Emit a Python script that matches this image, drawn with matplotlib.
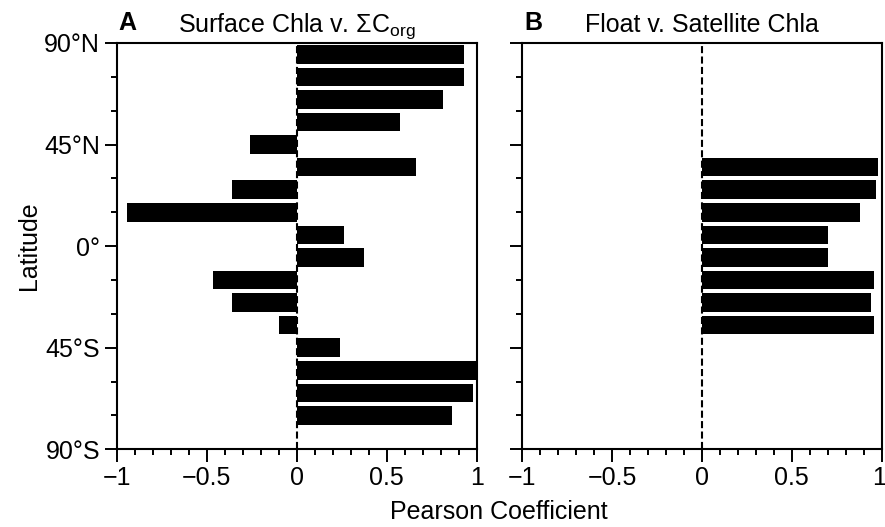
import matplotlib
matplotlib.use("Agg")
import matplotlib.pyplot as plt
from matplotlib.ticker import MultipleLocator
from matplotlib.transforms import ScaledTranslation

plt.rcParams['font.family'] = ['Liberation Sans', 'DejaVu Sans']
plt.rcParams['mathtext.fontset'] = 'custom'
plt.rcParams['mathtext.rm'] = 'Liberation Sans'
plt.rcParams['mathtext.it'] = 'Liberation Sans:italic'

# Data
lat_a = [85, 75, 65, 55, 45, 35, 25, 15, 5, -5, -15, -25, -35, -45, -55, -65, -75]
r_a = [0.93, 0.93, 0.815, 0.575, -0.26, 0.66, -0.362, -0.945, 0.26, 0.376,
       -0.463, -0.36, -0.10, 0.242, 1.0, 0.978, 0.863]
lat_b = [35, 25, 15, 5, -5, -15, -25, -35]
r_b = [0.98, 0.97, 0.88, 0.70, 0.70, 0.955, 0.943, 0.955]

ytick_vals = [90, 45, 0, -45, -90]
ytick_labels = ['90°N', '45°N', '0°', '45°S', '90°S']
xtick_vals = [-1, -0.5, 0, 0.5, 1]
xtick_labels = ['\u22121', '\u22120.5', '0', '0.5', '1']

titles = [r'Surface Chla v. $\Sigma$C$_{\mathrm{org}}$', 'Float v. Satellite Chla']
letters = ['A', 'B']

fig = plt.figure(figsize=(8.85, 5.27), dpi=100)
W, H = 885, 527
ax_a = fig.add_axes([116.7 / W, 1 - 449.3 / H, 360 / W, 406.3 / H])
ax_b = fig.add_axes([522.3 / W, 1 - 449.3 / H, 359.4 / W, 406.3 / H])

FS = 18
for i, (ax, lats, vals) in enumerate([(ax_a, lat_a, r_a), (ax_b, lat_b, r_b)]):
    ax.barh(lats, vals, height=8.2, color='black', edgecolor='none', zorder=2)
    ax.axvline(0, color='black', linestyle=(0, (3.4, 1.6)), linewidth=1.5, zorder=3)
    ax.set_xlim(-1, 1)
    ax.set_ylim(-90, 90)
    ax.set_yticks(ytick_vals)
    ax.set_xticks(xtick_vals)
    ax.set_xticklabels(xtick_labels, fontsize=FS)
    if i == 0:
        ax.set_yticklabels(ytick_labels, fontsize=FS)
    else:
        ax.set_yticklabels([])
    ax.xaxis.set_minor_locator(MultipleLocator(0.1))
    ax.yaxis.set_minor_locator(MultipleLocator(15))
    ax.tick_params(which='major', direction='out', length=9, width=1.4,
                   top=False, right=False, pad=3)
    ax.tick_params(which='minor', direction='out', length=4.5, width=1.4,
                   top=False, right=False)
    for sp in ax.spines.values():
        sp.set_linewidth(1.5)
    ax.set_title(titles[i], fontsize=FS, pad=8)
    ax.text(0.005, 1.02, letters[i], transform=ax.transAxes, fontsize=FS,
            fontweight='bold', ha='left', va='bottom')

# nudge the last tick label of panel B so it stays inside the figure
lab = ax_b.get_xticklabels()[-1]
lab.set_transform(lab.get_transform() + ScaledTranslation(-2.5 / 100, 0, fig.dpi_scale_trans))

ax_a.set_ylabel('Latitude', fontsize=FS, labelpad=2)
fig.text(499 / W, 1 - 512 / H, 'Pearson Coefficient', fontsize=FS,
         ha='center', va='center')

fig.savefig('out.png', dpi=100)
